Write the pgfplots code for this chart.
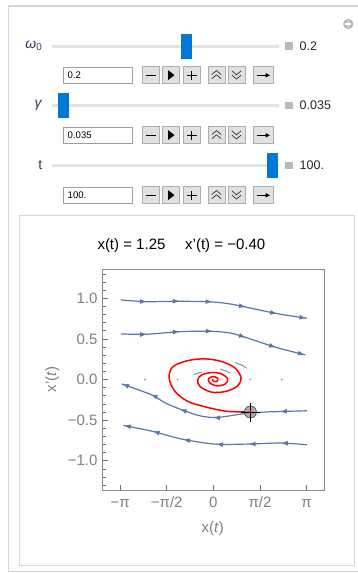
\documentclass[border=0pt]{standalone}
\usepackage{fontspec}
\setmainfont{Liberation Sans}
\usepackage{pgfplots}
\pgfplotsset{compat=1.18}
\usetikzlibrary{arrows.meta,decorations.markings}
\definecolor{stream}{HTML}{5A77A6}
\definecolor{thumb}{HTML}{0078D7}
\definecolor{track}{HTML}{E3E3E3}
\definecolor{btnfill}{HTML}{E1E1E1}
\definecolor{btnedge}{HTML}{ADADAD}
\definecolor{panel}{HTML}{D6D6D6}
\definecolor{framegray}{HTML}{8C8C8C}
\definecolor{tickgray}{HTML}{6E6E6E}
\definecolor{labelgray}{HTML}{808080}
\definecolor{sqgray}{HTML}{B9B9B9}
\definecolor{labcol}{HTML}{2E3B55}
\newcommand\valfont{\fontsize{12.5}{14}\selectfont}
\newcommand\labfont{\fontsize{14}{16}\selectfont}
\newcommand\boxfont{\fontsize{9.6}{11}\selectfont}
\newcommand\sliderrow[4]{%
  \draw[track, line width=3pt] (52,#1) -- (279,#1);
  \fill[thumb] ({#2-5.5},{#1-12.5}) rectangle ({#2+5.5},{#1+12.5});
  \fill[sqgray] (285,{#1-3.7}) rectangle (292.7,{#1+3.7});
  \node[anchor=west, inner sep=0pt, font=\valfont, text=black!85] at (299.5,#1) {#3};
  \node[anchor=east, inner sep=0pt, font=\labfont, text=labcol] at (42.5,#1) {#4};
}
\newcommand\ctrlrow[2]{%
  \begin{scope}[shift={(0,#1)}]
  \draw[gray!75, fill=white, line width=0.6pt] (63.3,0.5) rectangle (132,17);
  \node[anchor=west, inner sep=0pt, font=\boxfont] at (67.5,9) {#2};
  \foreach \a/\b in {142.7/159.3,162.3/179.3,183/200.7,208/225,228/245,253.3/273.3}
    \draw[btnedge, fill=btnfill, line width=0.6pt] (\a,0) rectangle (\b,17);
  \draw[black, line width=1.2pt] (146.3,9) -- (155.7,9);
  \fill[black] (168,3.8) -- (174.5,8.8) -- (168,13.8) -- cycle;
  \draw[black, line width=1.2pt] (187,9) -- (196.7,9) (191.85,4.2) -- (191.85,13.8);
  \draw[black!80, line width=0.7pt] (211.8,8.3) -- (216.5,4.3) -- (221.2,8.3) (211.8,12.5) -- (216.5,8.5) -- (221.2,12.5);
  \draw[black!80, line width=0.7pt] (231.8,4.5) -- (236.5,8.5) -- (241.2,4.5) (231.8,8.7) -- (236.5,12.7) -- (241.2,8.7);
  \draw[black, line width=1.2pt, -{Latex[length=5pt,width=5pt]}] (256.5,9) -- (270.5,9);
  \end{scope}
}
\tikzset{sarrows/.style={postaction={decorate}, decoration={markings,
  mark=at position 0.14 with {\arrow{Latex[length=7pt,width=5pt]}},
  mark=at position 0.315 with {\arrow{Latex[length=7pt,width=5pt]}},
  mark=at position 0.49 with {\arrow{Latex[length=7pt,width=5pt]}},
  mark=at position 0.67 with {\arrow{Latex[length=7pt,width=5pt]}},
  mark=at position 0.84 with {\arrow{Latex[length=7pt,width=5pt]}},
  mark=at position 0.998 with {\arrow{Latex[length=7pt,width=5pt]}}}}}
\begin{document}
\begin{tikzpicture}
\useasboundingbox (0,0) rectangle (358pt,-573pt);
\fill[white] (0,0) rectangle (358pt,-573pt);
\begin{scope}[x=1pt,y=-1pt]
  % outer frame
  \draw[panel, line width=1.2pt] (8.3,571.5) -- (8.3,6) -- (372,6);
  \draw[panel, line width=1.2pt] (8.3,571.5) -- (372,571.5);
  % plus icon
  \fill[sqgray] (348.3,24) circle (5.2);
  \draw[white, line width=1.1pt] (345.3,24) -- (351.3,24) (348.3,21) -- (348.3,27);
  % sliders
  \sliderrow{46}{186}{0.2}{\textit{ω}\textsubscript{0}}
  \ctrlrow{66.3}{0.2}
  \sliderrow{105.5}{63.8}{0.035}{\textit{γ}}
  \ctrlrow{126.3}{0.035}
  \sliderrow{165.3}{272.8}{100.}{t}
  \ctrlrow{186.3}{100.}
  % plot panel
  \draw[panel, line width=1pt] (19.3,215) rectangle (354,565);
  % title
  \node[anchor=base west, inner sep=0pt, font=\fontsize{15}{18}\selectfont] at (97.3,249.5) {x(t) = 1.25};
  \node[anchor=base west, inner sep=0pt, font=\fontsize{15}{18}\selectfont] at (185,249.5) {x'(t) = −0.40};
  % axis labels
  \node[anchor=base, inner sep=0pt, font=\fontsize{15}{18}\selectfont, text=labelgray] at (212.7,532) {x(\textit{t})};
  \node[rotate=90, inner sep=0pt, font=\fontsize{15}{18}\selectfont, text=labelgray] at (52.3,379.3) {x'(\textit{t})};
\end{scope}
\begin{axis}[
  at={(102.7pt,-269pt)}, anchor=north west,
  scale only axis, width=221.3pt, height=221pt,
  xmin=-3.73, xmax=3.73, ymin=-1.36, ymax=1.36,
  xtick={-3.14159,-1.5708,0,1.5708,3.14159},
  xticklabels={−π,−π/2,0,π/2,π},
  ytick={-1,-0.5,0,0.5,1},
  yticklabels={−1.0,−0.5,0.0,0.5,1.0},
  minor ytick={-1.3,-1.2,-1.1,-0.9,-0.8,-0.7,-0.6,-0.4,-0.3,-0.2,-0.1,0.1,0.2,0.3,0.4,0.6,0.7,0.8,0.9,1.1,1.2,1.3},
  xtick pos=left, ytick pos=left,
  tick align=inside,
  major tick length=5pt, minor tick length=3pt,
  axis line style={draw=framegray, line width=0.8pt},
  every tick/.style={draw=tickgray, line width=0.7pt},
  ticklabel style={font=\fontsize{15}{18}\selectfont, text=labelgray},
  xticklabel style={anchor=base, inner sep=0pt, yshift=-17.7pt},
  yticklabel style={anchor=east, inner sep=0pt, xshift=-5pt},
  clip=true,
]
% stream lines
\addplot[stream, line width=1.2pt, smooth, sarrows] coordinates {
(-3.12,0.979) (-2.245,0.958) (-1.12,0.963) (-0.054,0.955) (0.563,0.93) (1.07,0.893) (2.14,0.811) (3.15,0.754)};
\addplot[stream, line width=1.2pt, smooth, sarrows] coordinates {
(-3.12,0.561) (-2.245,0.557) (-1.12,0.589) (-0.11,0.594) (0.56,0.573) (1.07,0.52) (2.14,0.393) (3.10,0.303)};
\addplot[stream, line width=1.2pt, smooth, sarrows] coordinates {
(3.15,-0.385) (2.25,-0.394) (1.57,-0.404) (0.90,-0.428) (0.115,-0.468) (-0.45,-0.447) (-1.065,-0.373) (-1.63,-0.287) (-2.08,-0.189) (-3.09,-0.054)};
\addplot[stream, line width=1.2pt, smooth, sarrows] coordinates {
(3.15,-0.803) (2.25,-0.782) (1.126,-0.795) (0.057,-0.795) (-1.065,-0.733) (-2.13,-0.631) (-3.03,-0.566)};
% short arcs near the focus
\addplot[stream!80, line width=1pt, smooth] coordinates {(-0.67,0.06) (-0.52,0.08) (-0.39,0.088)};
\addplot[stream!80, line width=1pt, smooth] coordinates {(0.226,0.127) (0.394,0.11) (0.563,0.078)};
\addplot[stream!80, line width=1pt, smooth] coordinates {(0.731,0.208) (0.934,0.18) (1.126,0.14)};
\addplot[only marks, mark=*, mark size=0.6pt, stream!80] coordinates {(-2.3,0) (-1.2,0) (1.24,0) (2.31,0)};
% trajectory
\addplot[red, line width=1.5pt, smooth, tension=0.55] coordinates {
(-0.034,0.004) (0,-0.017) (0.115,-0.025) (0.148,0.017) (-0.034,0.036) (-0.169,0.004) (-0.111,-0.045) (0.115,-0.078) (0.394,-0.057) (0.485,0.004) (0.283,0.069) (-0.054,0.085) (-0.391,0.057) (-0.526,-0.004) (-0.448,-0.087) (-0.054,-0.156) (0.394,-0.148) (0.789,-0.087) (0.934,0.017) (0.731,0.140) (0.283,0.221) (-0.280,0.254) (-0.853,0.233) (-1.358,0.159) (-1.493,0.020) (-1.291,-0.148) (-0.853,-0.271) (-0.280,-0.336) (0.331,-0.385) (0.731,-0.397) (1.25,-0.40)};
% locator
\addplot[only marks, mark=*, mark size=6pt, mark options={fill=gray!75, draw=gray!50!black, line width=0.6pt, fill opacity=0.85}] coordinates {(1.25,-0.40)};
\addplot[only marks, mark=+, mark size=9.5pt, mark options={draw=black, line width=0.9pt}] coordinates {(1.25,-0.40)};
\addplot[only marks, mark=*, mark size=1pt, mark options={fill=red, draw=red}] coordinates {(1.25,-0.40)};
\end{axis}
\end{tikzpicture}
\end{document}
